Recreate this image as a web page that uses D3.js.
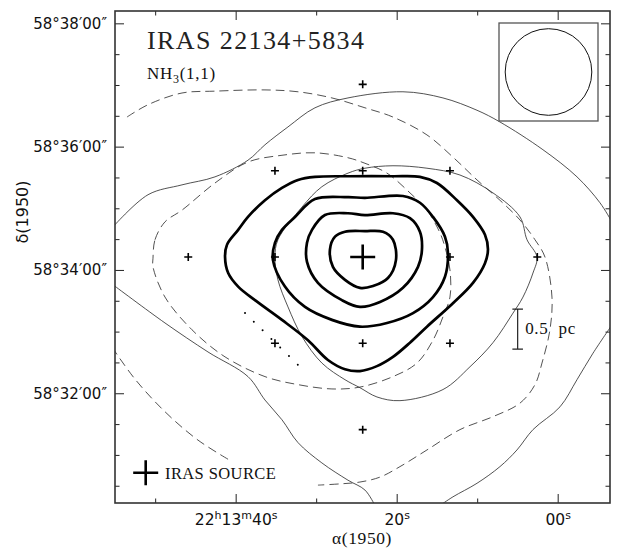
<!DOCTYPE html>
<html><head><meta charset="utf-8">
<script src="https://cdn.jsdelivr.net/npm/d3@7"></script>
<style>body{margin:0;background:#fff}svg{display:block}</style>
</head><body>
<svg id="chart" width="622" height="548"></svg>
<script>
// Coordinates: RA = seconds after 22h13m00s (B1950), Dec = arcmin after 58°00' (B1950)
const raMajor = [40, 20, 0];
const raMajorLabels = ["22h13m40s", "20s", "00s"];
const raMinor = [50, 30, 10];
const decMajor = [38, 36, 34, 32];
const decMajorLabels = ["58°38′00″", "58°36′00″", "58°34′00″", "58°32′00″"];
const decMinor = [37.5, 37, 36.5, 35.5, 35, 34.5, 33.5, 33, 32.5, 31.5, 31, 30.5];

const irasSource = [24.22, 34.21];
const observedPositions = [[24.22,37.01],[35.12,35.61],[24.22,35.61],[13.38,35.61],[45.89,34.21],[35.12,34.21],
  [13.38,34.21],[2.53,34.21],[35.12,32.81],[24.22,32.81],[13.38,32.81],[24.22,31.41]];

// thin solid contours (open segments cut by map edge)
const thinOuterTop = [[55.37,34.68],[50.89,35.22],[46.67,35.38],[42.57,35.51],[38.47,35.78],[36.36,36.03],[33.50,36.32],
  [30.15,36.63],[26.05,36.79],[19.22,36.89],[14.25,36.79],[10.02,36.59],[7.17,36.40],[1.83,35.95],[-2.40,35.51],[-5.25,35.09],[-6.74,34.78]];
const thinOuterRight = [[-6.75,33.11],[-4.39,32.65],[-2.40,32.22],[-0.29,31.78],[3.07,31.41],[5.06,31.08],[7.17,30.81],
  [10.02,30.54],[13.01,30.32],[14.62,30.18]];
const thinOuterLeft = [[55.24,33.76],[48.78,33.14],[43.44,32.67],[38.47,32.27],[36.36,31.89],[34.25,31.57],[32.26,31.20],
  [29.29,30.87],[26.05,30.59],[23.94,30.43],[22.70,30.18]];
// thin solid closed contour
const thinInner = [[35.12,34.21],[34.75,34.49],[31.76,35.02],[29.29,35.35],[26.05,35.57],[23.94,35.65],[20.46,35.69],
  [16.24,35.65],[12.14,35.54],[8.04,35.25],[4.68,34.86],[3.81,34.49],[2.57,34.21],[3.07,33.95],[4.31,33.56],[5.55,33.30],
  [8.04,32.82],[10.89,32.43],[14.25,32.06],[19.59,31.88],[22.45,31.94],[24.56,32.09],[26.42,32.22],[29.29,32.49],
  [31.76,32.92],[33.50,33.40],[34.75,33.84]];
// dashed contours
const dashedOuter = [[53.50,36.48],[50.89,36.68],[46.67,36.87],[42.57,36.90],[36.36,36.92],[32.26,36.89],[28.04,36.79],
  [23.94,36.63],[20.46,36.48],[16.24,36.19],[13.01,35.83],[10.02,35.46],[7.17,35.13],[4.68,34.81],[2.82,34.49],[1.58,34.21],
  [0.71,33.56],[0.96,33.03],[1.95,32.49],[2.82,32.14],[4.68,31.84],[8.04,31.62],[12.14,31.41],[16.24,31.08],[19.59,30.81],
  [22.07,30.64],[24.56,30.56],[27.04,30.53],[29.78,30.51]];
const dashedCorner = [[55.37,32.75],[52.51,32.23],[48.78,31.70],[44.68,31.24],[40.43,30.89]];
const dashedInner = [[50.27,34.19],[50.02,34.49],[48.78,34.78],[46.67,34.97],[42.57,35.41],[38.47,35.75],[34.25,35.86],
  [30.15,35.90],[26.05,35.82],[23.94,35.73],[21.20,35.57],[18.35,35.25],[16.24,34.97],[14.62,34.60],[14.00,34.37],
  [13.38,34.00],[13.38,33.56],[14.25,33.24],[15.49,32.86],[17.48,32.49],[20.46,32.27],[24.56,32.10],[28.04,32.07],
  [32.26,32.14],[36.36,32.27],[41.32,32.59],[45.43,33.03],[48.78,33.56],[50.27,34.05]];
// thick solid contours (closed)
const thick1 = [[41.32,34.21],[41.08,34.41],[39.69,34.65],[38.47,34.86],[36.36,35.13],[34.25,35.33],[32.26,35.46],
  [30.15,35.51],[26.05,35.52],[20.46,35.52],[17.11,35.51],[15.00,35.41],[12.51,35.13],[10.52,34.86],[9.03,34.57],
  [8.66,34.33],[9.03,34.11],[10.52,33.79],[13.01,33.46],[16.24,33.08],[18.35,32.82],[20.46,32.59],[22.45,32.44],
  [24.56,32.36],[26.42,32.39],[28.54,32.54],[31.02,32.86],[34.25,33.19],[37.60,33.51],[39.69,33.73],[40.93,33.95]];
const thick2 = [[35.37,34.16],[35.12,34.44],[34.25,34.65],[32.63,34.86],[30.15,35.15],[26.05,35.18],[23.94,35.17],
  [19.22,35.20],[17.11,35.09],[15.49,34.86],[14.00,34.54],[13.63,34.28],[14.00,33.89],[15.49,33.56],[17.97,33.30],
  [21.20,33.14],[24.56,33.08],[28.04,33.19],[31.39,33.40],[33.88,33.73]];
const thick3 = [[31.14,34.13],[31.14,34.44],[30.52,34.65],[28.91,34.89],[26.05,34.92],[23.94,34.89],[20.46,34.92],
  [18.35,34.84],[17.11,34.62],[16.86,34.33],[17.35,34.05],[19.22,33.71],[22.07,33.48],[24.56,33.40],[26.80,33.51],[29.78,33.79]];
const thick4 = [[28.29,34.33],[27.66,34.54],[26.42,34.62],[23.94,34.63],[21.70,34.62],[20.46,34.49],[20.09,34.16],
  [21.08,33.87],[22.94,33.74],[24.56,33.71],[26.42,33.84],[27.92,34.05]];
const dottedLine = [[38.84,33.30],[32.26,32.46]];

const beamDiameterArcmin = 1.405;
const scaleBar = {ra: 4.97, dec: 33.04, lengthArcmin: 0.65, label: "0.5 pc"};

const svg = d3.select("#chart");
const L = 115, R = 610, T = 11, B = 503;
const x = d3.scaleLinear().domain([54.99, -6.50]).range([L, R]);
const y = d3.scaleLinear().domain([30.22, 38.20]).range([B, T]);

svg.append("defs").append("clipPath").attr("id", "clip")
  .append("rect").attr("x", L).attr("y", T).attr("width", R - L).attr("height", B - T);

const lineOpen = d3.line().x(d => x(d[0])).y(d => y(d[1])).curve(d3.curveCatmullRom.alpha(0.5));
const lineClosed = d3.line().x(d => x(d[0])).y(d => y(d[1])).curve(d3.curveCatmullRomClosed.alpha(0.5));

const g = svg.append("g").attr("clip-path", "url(#clip)");
const thinStyle = s => s.attr("fill", "none").attr("stroke", "#333").attr("stroke-width", 0.85);
[thinOuterTop, thinOuterRight, thinOuterLeft].forEach(c => g.append("path").attr("d", lineOpen(c)).call(thinStyle));
g.append("path").attr("d", lineClosed(thinInner)).call(thinStyle);
[dashedOuter, dashedCorner].forEach(c => g.append("path").attr("d", lineOpen(c)).call(thinStyle).attr("stroke-dasharray", "9,5"));
g.append("path").attr("d", lineClosed(dashedInner)).call(thinStyle).attr("stroke-dasharray", "9,5");
[thick1, thick2, thick3, thick4].forEach(c => g.append("path").attr("d", lineClosed(c))
  .attr("fill", "none").attr("stroke", "#000").attr("stroke-width", 2.7).attr("stroke-linejoin", "round"));
g.append("path").attr("d", d3.line().x(d => x(d[0])).y(d => y(d[1]))(dottedLine))
  .attr("fill", "none").attr("stroke", "#000").attr("stroke-width", 2).attr("stroke-linecap", "round")
  .attr("stroke-dasharray", "0,12.3");

function cross(sel, cx, cy, h, w) {
  sel.append("path").attr("d", `M${cx - h},${cy}H${cx + h}M${cx},${cy - h}V${cy + h}`)
    .attr("stroke", "#000").attr("stroke-width", w).attr("fill", "none");
}
observedPositions.forEach(p => cross(g, x(p[0]), y(p[1]), 4, 1.6));
cross(g, x(irasSource[0]), y(irasSource[1]), 12.5, 2.6);

// axes
function clean(sel) {
  sel.select(".domain").remove();
  sel.selectAll(".tick line").attr("stroke", "#222").attr("stroke-width", 1);
}
const sansFont = "'DejaVu Sans', sans-serif";
const bottomAx = svg.append("g").attr("transform", `translate(0,${B})`)
  .call(d3.axisBottom(x).tickValues(raMajor).tickSize(-9).tickPadding(11).tickFormat((d, i) => raMajorLabels[i]))
  .call(clean);
bottomAx.selectAll("text").each(function() {
  const t = d3.select(this);
  const s = t.text();
  t.text(null).attr("font-family", sansFont).attr("font-size", 15.5).attr("fill", "#111");
  const parts = s.match(/\d+|[a-z]/g);
  let sup = false;
  parts.forEach(p => {
    const isSup = /[a-z]/.test(p);
    const ts = t.append("tspan").text(p);
    if (isSup && !sup) ts.attr("dy", -6.5).attr("font-size", 11);
    else if (isSup) ts.attr("font-size", 11);
    else if (sup) ts.attr("dy", 6.5);
    sup = isSup;
  });
});
svg.append("g").attr("transform", `translate(0,${B})`)
  .call(d3.axisBottom(x).tickValues(raMinor).tickSize(-4.5).tickFormat("")).call(clean);
svg.append("g").attr("transform", `translate(0,${T})`)
  .call(d3.axisTop(x).tickValues(raMajor).tickSize(-9).tickFormat("")).call(clean);
svg.append("g").attr("transform", `translate(0,${T})`)
  .call(d3.axisTop(x).tickValues(raMinor).tickSize(-4.5).tickFormat("")).call(clean);

const leftAx = svg.append("g").attr("transform", `translate(${L},0)`)
  .call(d3.axisLeft(y).tickValues(decMajor).tickSize(-9).tickPadding(8).tickFormat((d, i) => decMajorLabels[i]))
  .call(clean);
leftAx.selectAll("text").attr("font-family", sansFont).attr("font-size", 15).attr("fill", "#111");
svg.append("g").attr("transform", `translate(${L},0)`)
  .call(d3.axisLeft(y).tickValues(decMinor).tickSize(-4.5).tickFormat("")).call(clean);
svg.append("g").attr("transform", `translate(${R},0)`)
  .call(d3.axisRight(y).tickValues(decMajor).tickSize(-9).tickFormat("")).call(clean);
svg.append("g").attr("transform", `translate(${R},0)`)
  .call(d3.axisRight(y).tickValues(decMinor).tickSize(-4.5).tickFormat("")).call(clean);

svg.append("rect").attr("x", L).attr("y", T).attr("width", R - L).attr("height", B - T)
  .attr("fill", "none").attr("stroke", "#333").attr("stroke-width", 1.6);

// beam inset
const beamR = (y(0) - y(beamDiameterArcmin)) / 2;
svg.append("rect").attr("x", 499).attr("y", 23).attr("width", 99).attr("height", 98)
  .attr("fill", "#fff").attr("stroke", "#555").attr("stroke-width", 1.3);
svg.append("circle").attr("cx", 548.5).attr("cy", 72).attr("r", beamR)
  .attr("fill", "none").attr("stroke", "#111").attr("stroke-width", 1);

// scale bar
const sbx = x(scaleBar.ra), sy1 = y(scaleBar.dec + scaleBar.lengthArcmin / 2), sy2 = y(scaleBar.dec - scaleBar.lengthArcmin / 2);
svg.append("path").attr("d", `M${sbx},${sy1}V${sy2}M${sbx - 5.3},${sy1}H${sbx + 5.3}M${sbx - 5.3},${sy2}H${sbx + 5.3}`)
  .attr("stroke", "#222").attr("stroke-width", 1.2).attr("fill", "none");
const serif = "'Liberation Serif', 'Times New Roman', serif";
svg.append("text").attr("x", sbx + 7.5).attr("y", y(scaleBar.dec) + 5).attr("font-family", serif)
  .attr("font-size", 17).attr("word-spacing", 5).attr("letter-spacing", 0.7).attr("fill", "#111").text(scaleBar.label);

// titles
svg.append("text").attr("x", 147).attr("y", 49).attr("font-family", serif).attr("font-size", 26)
  .attr("letter-spacing", 1.4).attr("fill", "#222").text("IRAS 22134+5834");
const nh = svg.append("text").attr("x", 147).attr("y", 79).attr("font-family", serif).attr("font-size", 17)
  .attr("letter-spacing", 0.7).attr("fill", "#111");
nh.append("tspan").text("NH");
nh.append("tspan").attr("font-size", 12).attr("dy", 3.5).text("3");
nh.append("tspan").attr("dy", -3.5).text("(1,1)");

// legend
cross(svg, 145.7, 472.7, 12.5, 2.6);
svg.append("text").attr("x", 165).attr("y", 478.5).attr("font-family", serif).attr("font-size", 16.5)
  .attr("letter-spacing", 0.4).attr("fill", "#111").text("IRAS SOURCE");

// axis titles
svg.append("text").attr("x", 362).attr("y", 543.5).attr("text-anchor", "middle").attr("font-family", serif)
  .attr("font-size", 17.5).attr("letter-spacing", 0.6).attr("fill", "#111").text("α(1950)");
svg.append("text").attr("transform", "translate(28,212) rotate(-90)").attr("text-anchor", "middle")
  .attr("font-family", sansFont).attr("font-size", 16).attr("fill", "#111").text("δ(1950)");
</script>
</body></html>
